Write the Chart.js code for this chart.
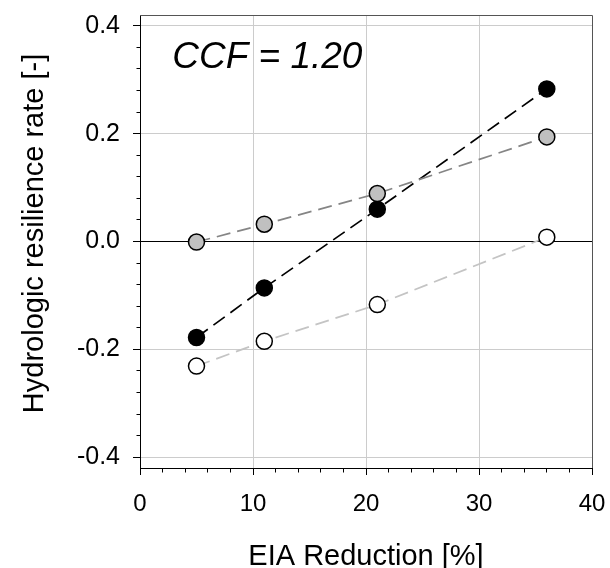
<!DOCTYPE html>
<html>
<head>
<meta charset="utf-8">
<script src="https://cdn.jsdelivr.net/npm/chart.js@4.4.1/dist/chart.umd.min.js"></script>
<style>
  body { margin: 0; background: #fff; }
  canvas { display: block; }
</style>
</head>
<body>
<canvas id="grafico" width="610" height="568"></canvas>
<script>
// Data
var eiaReduction = [5, 11, 21, 36];
var serieNegra = [-0.178, -0.086, 0.060, 0.283];
var serieGris = [-0.001, 0.032, 0.089, 0.194];
var serieBlanca = [-0.231, -0.185, -0.117, 0.008];

var xMajorTicks = [0, 10, 20, 30, 40];
var yMajorTicks = [-0.4, -0.2, 0.0, 0.2, 0.4];
var xMinorStep = 2;
var yMinorStep = 0.04;
var textoCCF = 'CCF = 1.20';

var fuente = '"Liberation Sans", Arial, Helvetica, sans-serif';

function puntos(valores) {
    return eiaReduction.map(function(x, i) { return { x: x, y: valores[i] }; });
}

function esMayor(lista, v) {
    return lista.some(function(m) { return Math.abs(m - v) < 1e-6; });
}

function construirTicks(lista, paso) {
    var min = lista[0], max = lista[lista.length - 1];
    var n = Math.round((max - min) / paso);
    var ticks = [];
    for (var i = 0; i <= n; i++) {
        ticks.push({ value: Math.round((min + i * paso) * 1000) / 1000 });
    }
    return ticks;
}

// no extra room for edge labels, the layout padding handles it
function sinPadding(scale) {
    scale.paddingTop = 0;
    scale.paddingBottom = 0;
    scale.paddingLeft = 0;
    scale.paddingRight = 0;
}

// CCF label inside the plot
var anotacion = {
    id: 'anotacion',
    afterDatasetsDraw: function(chart) {
        var ctx = chart.ctx;
        ctx.save();
        ctx.font = 'italic 37px ' + fuente;
        ctx.fillStyle = '#000';
        ctx.textBaseline = 'alphabetic';
        ctx.fillText(textoCCF, chart.scales.x.getPixelForValue(2.85), chart.scales.y.getPixelForValue(0.322));
        ctx.restore();
    }
};

// top and right frame lines
var marco = {
    id: 'marco',
    beforeDatasetsDraw: function(chart) {
        var a = chart.chartArea, ctx = chart.ctx;
        ctx.save();
        ctx.strokeStyle = '#555';
        ctx.lineWidth = 1;
        ctx.beginPath();
        ctx.moveTo(a.left, a.top + 0.5);
        ctx.lineTo(a.right + 0.5, a.top + 0.5);
        ctx.lineTo(a.right + 0.5, a.bottom);
        ctx.stroke();
        ctx.restore();
    }
};

var comun = {
    showLine: true,
    borderWidth: 1.7,
    borderDash: [14, 7],
    pointRadius: 8,
    pointHoverRadius: 8,
    pointBorderWidth: 1.5,
    pointBorderColor: '#000'
};

var ctx = document.getElementById('grafico').getContext('2d');
var grafico = new Chart(ctx, {
    type: 'scatter',
    data: {
        datasets: [
            Object.assign({ label: 'gris', data: puntos(serieGris), borderColor: '#858585', pointBackgroundColor: '#c0c0c0' }, comun),
            Object.assign({ label: 'negra', data: puntos(serieNegra), borderColor: '#000', pointBackgroundColor: '#000' }, comun),
            Object.assign({ label: 'blanca', data: puntos(serieBlanca), borderColor: '#c4c4c4', pointBackgroundColor: '#fff' }, comun)
        ]
    },
    options: {
        responsive: false,
        animation: false,
        layout: { padding: { top: 15, right: 18, left: 0, bottom: 0 } },
        plugins: {
            legend: { display: false },
            tooltip: { enabled: false }
        },
        scales: {
            x: {
                type: 'linear',
                min: 0,
                max: 40,
                afterBuildTicks: function(scale) { scale.ticks = construirTicks(xMajorTicks, xMinorStep); },
                afterFit: function(scale) { scale.height = 100; sinPadding(scale); },
                border: { color: '#000', width: 1 },
                grid: {
                    color: function(c) {
                        var v = c.tick ? c.tick.value : 0;
                        return (esMayor(xMajorTicks, v) && v !== 0 && v !== 40) ? '#cccccc' : 'rgba(0,0,0,0)';
                    },
                    tickColor: '#000',
                    tickLength: 7,
                    tickBorderDash: function(c) {
                        return esMayor(xMajorTicks, c.tick.value) ? [] : [3.5, 20];
                    }
                },
                ticks: {
                    autoSkip: false,
                    maxRotation: 0,
                    padding: 15,
                    color: '#000',
                    font: { family: fuente, size: 24 },
                    callback: function(v) { return esMayor(xMajorTicks, v) ? String(v) : ''; }
                },
                title: {
                    display: true,
                    text: 'EIA Reduction [%]',
                    color: '#000',
                    font: { family: fuente, size: 29, lineHeight: 1 },
                    padding: { top: 0, bottom: -3 }
                }
            },
            y: {
                type: 'linear',
                min: -0.42,
                max: 0.42,
                afterBuildTicks: function(scale) { scale.ticks = construirTicks(yMajorTicks, yMinorStep); },
                afterFit: function(scale) { scale.width = 140; sinPadding(scale); },
                border: { color: '#000', width: 1 },
                grid: {
                    color: function(c) {
                        var v = c.tick ? c.tick.value : 1;
                        if (Math.abs(v) < 1e-6) return '#000';
                        return esMayor(yMajorTicks, v) ? '#cccccc' : 'rgba(0,0,0,0)';
                    },
                    tickColor: '#000',
                    tickLength: 7,
                    tickBorderDash: function(c) {
                        return esMayor(yMajorTicks, c.tick.value) ? [] : [0, 3.5, 4, 0];
                    }
                },
                ticks: {
                    autoSkip: false,
                    padding: 13,
                    color: '#000',
                    font: { family: fuente, size: 25 },
                    callback: function(v) { return esMayor(yMajorTicks, v) ? v.toFixed(1) : ''; }
                },
                title: {
                    display: true,
                    // leading spaces nudge the centred title a little upwards, as in the original
                    text: '  Hydrologic resilience rate [-]',
                    color: '#000',
                    font: { family: fuente, size: 29, lineHeight: 1 },
                    padding: { top: 20, bottom: 0 }
                }
            }
        }
    },
    plugins: [marco, anotacion]
});
</script>
</body>
</html>
